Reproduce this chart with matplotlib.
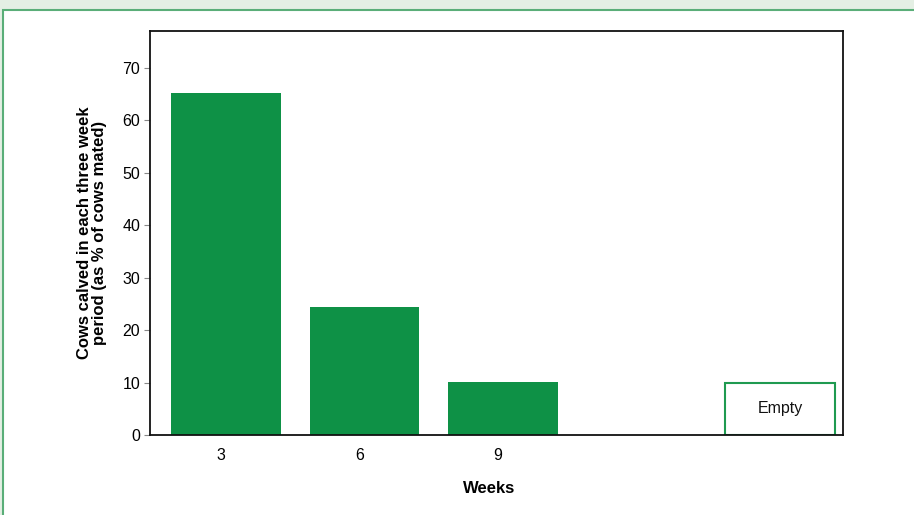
import matplotlib
matplotlib.use('Agg')
import matplotlib.pyplot as plt
from matplotlib.patches import Rectangle
from matplotlib.transforms import ScaledTranslation

plt.rcParams['font.family'] = ['Liberation Sans', 'DejaVu Sans']

# Data
weeks = ['3', '6', '9']
calved = [65.2, 24.4, 10.1]
empty_label = 'Empty'
empty_value = 10.0
yticks = [0, 10, 20, 30, 40, 50, 60, 70]

BAR_GREEN = '#0e9146'
PANEL_EDGE = '#5aae78'

fig = plt.figure(figsize=(9.14, 5.15), dpi=100)
fig.patch.set_facecolor('#e4efe4')

# white panel with green border (runs off the bottom and right edges)
W, H = 914, 515
panel = Rectangle((3 / W, -0.1), 1.1, (H - 10) / H + 0.1, transform=fig.transFigure,
                  facecolor='white', edgecolor=PANEL_EDGE, linewidth=1.5, zorder=-10)
fig.patches.append(panel)

ax = fig.add_axes([150 / W, 1 - 435 / H, (843 - 150) / W, (435 - 31) / H])
ax.set_facecolor('white')

pos = list(range(len(calved)))
ax.bar(pos, calved, width=0.79, color=BAR_GREEN, zorder=2)

empty_pos = 4
ax.bar([empty_pos], [empty_value], width=0.79, facecolor='white',
       edgecolor='#1f9a50', linewidth=1.5, zorder=2)
ax.text(empty_pos, empty_value / 2, empty_label, ha='center', va='center',
        fontsize=11.5, color='#111111')

ax.set_xlim(-0.55, 4.455)
ax.set_ylim(0, 77)
ax.set_yticks(yticks)
ax.set_xticks(pos)
ax.set_xticklabels(weeks)
ax.tick_params(axis='x', length=0, labelsize=11.5, pad=9)
ax.tick_params(axis='y', length=4, color='#888888', labelsize=11.5, pad=3)

# x labels sit a little left of the bar centres in the original
shift = ScaledTranslation(-5 / 100, 0, fig.dpi_scale_trans)
for lbl in ax.get_xticklabels():
    lbl.set_transform(lbl.get_transform() + shift)

for s in ax.spines.values():
    s.set_linewidth(1.3)
    s.set_color('#111111')

ax.set_xlabel('Weeks', fontsize=12, fontweight='bold', labelpad=17)
ax.xaxis.set_label_coords(0.49, -0.115)
ax.set_ylabel('Cows calved in each three week\nperiod (as % of cows mated)',
              fontsize=12, fontweight='bold', labelpad=11, linespacing=1.05)

fig.savefig('out.png', dpi=100, facecolor=fig.get_facecolor())
